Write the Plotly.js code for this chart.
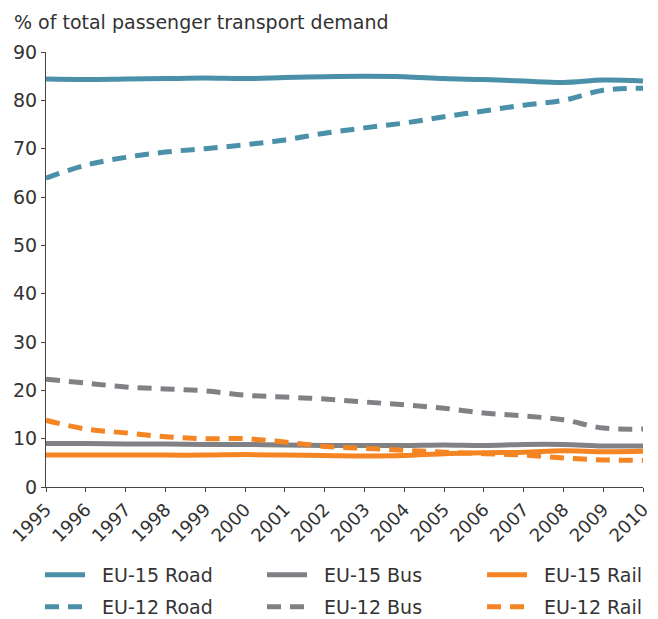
<!DOCTYPE html>
<html>
<head>
<meta charset="utf-8">
<script src="https://cdn.plot.ly/plotly-3.0.1.min.js"></script>
<style>
  body { margin: 0; background: #fff; }
  #chart { width: 658px; height: 619px; }
</style>
</head>
<body>
<div id="chart"></div>
<script>
// Years on the x axis
const years = ['1995', '1996', '1997', '1998', '1999', '2000', '2001', '2002',
  '2003', '2004', '2005', '2006', '2007', '2008', '2009', '2010'];

// Shares of total passenger transport demand (%)
const eu15Road = [84.4, 84.3, 84.4, 84.5, 84.6, 84.5, 84.7, 84.9, 85.0, 84.9, 84.5, 84.3, 84.0, 83.7, 84.2, 84.0];
const eu15Bus  = [9.0, 9.0, 8.9, 8.9, 8.8, 8.8, 8.7, 8.6, 8.6, 8.6, 8.7, 8.6, 8.8, 8.8, 8.5, 8.5];
const eu15Rail = [6.6, 6.6, 6.6, 6.6, 6.6, 6.7, 6.6, 6.5, 6.4, 6.5, 6.9, 7.1, 7.2, 7.5, 7.3, 7.4];
const eu12Road = [63.9, 66.6, 68.2, 69.3, 70.0, 70.8, 71.8, 73.2, 74.3, 75.3, 76.6, 77.8, 79.0, 80.0, 82.1, 82.5];
const eu12Bus  = [22.3, 21.5, 20.7, 20.3, 19.9, 19.0, 18.6, 18.2, 17.6, 17.0, 16.3, 15.3, 14.7, 13.9, 12.2, 12.0];
const eu12Rail = [13.8, 12.0, 11.2, 10.4, 10.0, 10.0, 9.3, 8.4, 8.0, 7.6, 7.2, 6.9, 6.6, 6.0, 5.6, 5.5];

const roadColor = '#4a90a9';
const busColor = '#808184';
const railColor = '#f58422';

function trace(name, values, color, dashed, legendId) {
  return {
    x: years,
    y: values,
    name: '\u00a0\u00a0' + name, // small gap between key and label
    legend: legendId,
    mode: 'lines',
    line: { color: color, width: 5, shape: 'spline', dash: dashed ? '14px,9px' : 'solid' }
  };
}

const data = [
  trace('EU-15 Road', eu15Road, roadColor, false, 'legend'),
  trace('EU-15 Bus', eu15Bus, busColor, false, 'legend2'),
  trace('EU-15 Rail', eu15Rail, railColor, false, 'legend3'),
  trace('EU-12 Road', eu12Road, roadColor, true, 'legend4'),
  trace('EU-12 Bus', eu12Bus, busColor, true, 'legend5'),
  trace('EU-12 Rail', eu12Rail, railColor, true, 'legend6')
];

// one small legend per entry so the 3x2 grid can be placed exactly
function legendAt(px, py) {
  return {
    xref: 'container', yref: 'container',
    x: px / 658, xanchor: 'left',
    y: 1 - py / 619, yanchor: 'middle',
    font: { size: 19, color: '#333' },
    itemwidth: 40,
    bgcolor: 'rgba(0,0,0,0)'
  };
}

const layout = {
  width: 658,
  height: 619,
  margin: { l: 46, r: 15, t: 52, b: 132, autoexpand: false },
  paper_bgcolor: '#fff',
  plot_bgcolor: '#fff',
  font: { family: 'Verdana, "DejaVu Sans", sans-serif', size: 18, color: '#333' },
  title: {
    text: '% of total passenger transport demand',
    xref: 'container', yref: 'container',
    x: 14 / 658, xanchor: 'left',
    y: 1 - 22 / 619, yanchor: 'middle',
    font: { size: 19, color: '#333' }
  },
  xaxis: {
    type: 'category',
    range: [0, 15],
    automargin: false,
    showgrid: false,
    zeroline: false,
    showline: true,
    linecolor: '#444',
    linewidth: 1,
    ticks: 'outside',
    ticklen: 4,
    tickcolor: '#444',
    tickangle: -45,
    tickfont: { size: 18 }
  },
  yaxis: {
    range: [0, 90],
    dtick: 10,
    automargin: false,
    showgrid: false,
    zeroline: false,
    showline: true,
    linecolor: '#444',
    linewidth: 1,
    ticks: 'outside',
    ticklen: 4,
    tickcolor: '#444',
    tickfont: { size: 19 }
  },
  showlegend: true,
  legend: legendAt(40, 575),
  legend2: legendAt(262, 575),
  legend3: legendAt(482, 575),
  legend4: legendAt(40, 607),
  legend5: legendAt(262, 607),
  legend6: legendAt(482, 607)
};

Plotly.newPlot('chart', data, layout, { displayModeBar: false, staticPlot: true });
</script>
</body>
</html>
